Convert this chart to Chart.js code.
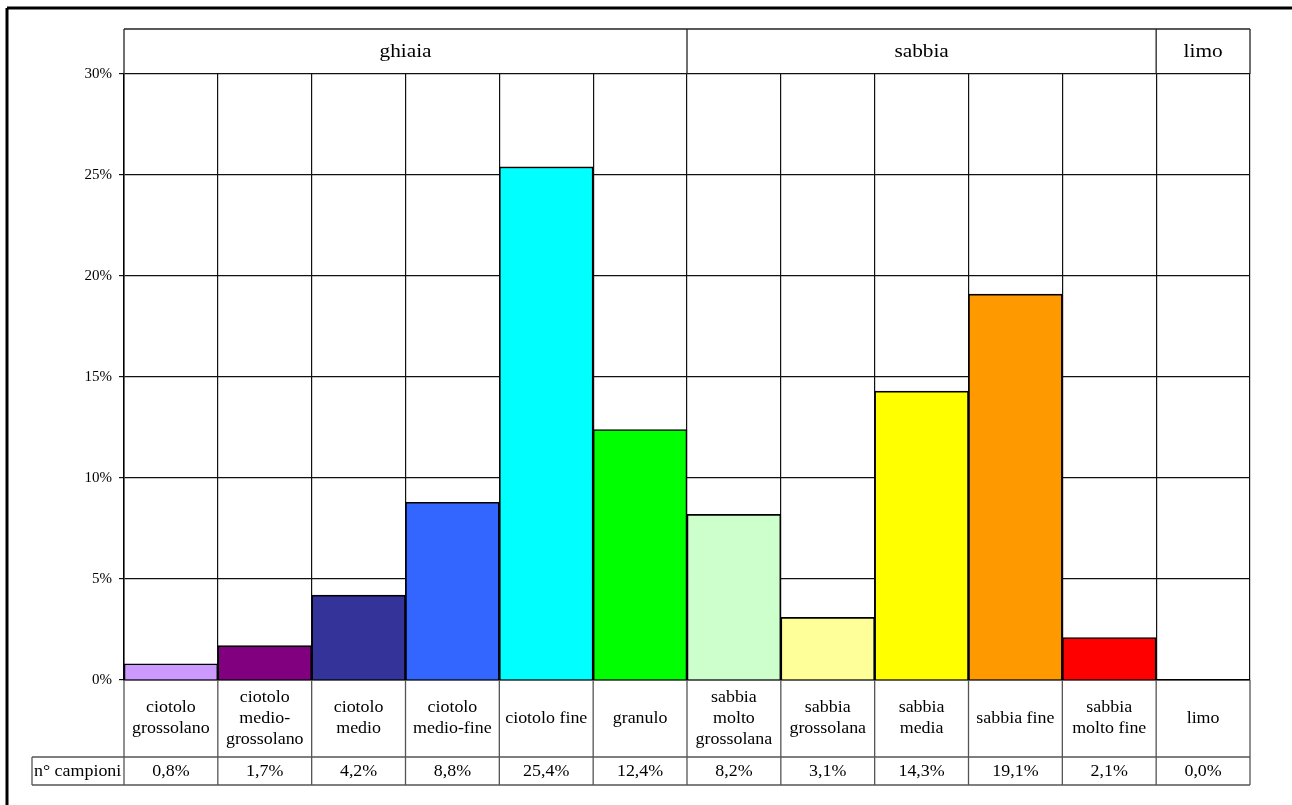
<!DOCTYPE html>
<html>
<head>
<meta charset="utf-8">
<script src="https://cdn.jsdelivr.net/npm/chart.js"></script>
<style>
  body { margin: 0; background: #fff; }
  #wrap { width: 1292px; height: 805px; }
</style>
</head>
<body>
<div id="wrap"><canvas id="myChart" width="1292" height="805"></canvas></div>
<script>
const categories = [
    ["ciotolo", "grossolano"],
    ["ciotolo", "medio-", "grossolano"],
    ["ciotolo", "medio"],
    ["ciotolo", "medio-fine"],
    ["ciotolo fine"],
    ["granulo"],
    ["sabbia", "molto", "grossolana"],
    ["sabbia", "grossolana"],
    ["sabbia", "media"],
    ["sabbia fine"],
    ["sabbia", "molto fine"],
    ["limo"]
];
const values = [0.8, 1.7, 4.2, 8.8, 25.4, 12.4, 8.2, 3.1, 14.3, 19.1, 2.1, 0.0];
const valueLabels = ["0,8%", "1,7%", "4,2%", "8,8%", "25,4%", "12,4%", "8,2%", "3,1%", "14,3%", "19,1%", "2,1%", "0,0%"];
const barColors = ["#CC99FF", "#800080", "#333399", "#3366FF", "#00FFFF", "#00FF00",
                   "#CCFFCC", "#FFFF99", "#FFFF00", "#FF9900", "#FF0000", "#FFFFFF"];
const groupNames = ["ghiaia", "sabbia", "limo"];
const groupSizes = [6, 5, 1];
const rowTitle = "n° campioni";

const FONT = "'Liberation Serif', 'Times New Roman', serif";
const SX = 1.12; // text in the original is a bit stretched sideways

function stretchText(ctx, text, x, y) {
    ctx.save();
    ctx.translate(x, y);
    ctx.scale(SX, 1);
    ctx.fillText(text, 0, 0);
    ctx.restore();
}

function line(ctx, x1, y1, x2, y2) {
    ctx.beginPath();
    ctx.moveTo(x1, y1);
    ctx.lineTo(x2, y2);
    ctx.stroke();
}

const tablePlugin = {
    id: "tablePlugin",
    afterDraw(chart) {
        const ctx = chart.ctx;
        const area = chart.chartArea;
        const x = chart.scales.x;
        const n = categories.length;
        const half = (x.getPixelForValue(1) - x.getPixelForValue(0)) / 2;
        const edge = i => (i < n ? x.getPixelForValue(i) - half : x.getPixelForValue(n - 1) + half);

        ctx.save();
        ctx.fillStyle = "#000";

        // top band with group names
        const bandTop = area.top - 45;
        ctx.strokeStyle = "#222";
        ctx.lineWidth = 1.3;
        line(ctx, area.left, bandTop, area.right, bandTop);
        line(ctx, area.left, bandTop, area.left, area.top);
        line(ctx, area.right, bandTop, area.right, area.top);
        ctx.font = "19px " + FONT;
        ctx.textAlign = "center";
        ctx.textBaseline = "middle";
        let start = 0;
        groupNames.forEach((g, k) => {
            const a = edge(start);
            const b = edge(start + groupSizes[k]);
            if (start > 0) line(ctx, a, bandTop, a, area.top);
            stretchText(ctx, g, (a + b) / 2, (bandTop + area.top) / 2 + 1);
            start += groupSizes[k];
        });

        // category names and values table
        const row1 = area.bottom;
        const row2 = area.bottom + 77;
        const row3 = area.bottom + 105;
        ctx.strokeStyle = "#555";
        line(ctx, area.left, row2, area.right, row2);
        line(ctx, 32, row3, area.right, row3);
        line(ctx, 32, row2, area.left, row2);
        line(ctx, 32, row2, 32, row3);
        for (let i = 0; i <= n; i++) {
            line(ctx, edge(i), row1, edge(i), row3);
        }
        ctx.font = "16px " + FONT;
        for (let i = 0; i < n; i++) {
            const cx = (edge(i) + edge(i + 1)) / 2;
            const lines = categories[i];
            const mid = (row1 + row2) / 2;
            lines.forEach((t, j) => {
                stretchText(ctx, t, cx, mid + (j - (lines.length - 1) / 2) * 21);
            });
            stretchText(ctx, valueLabels[i], cx, (row2 + row3) / 2 + 1);
        }
        ctx.textAlign = "left";
        stretchText(ctx, rowTitle, 34, (row2 + row3) / 2 + 1);

        // outer frame
        ctx.strokeStyle = "#000";
        ctx.lineWidth = 3;
        line(ctx, 7, 8, 1292, 8);
        line(ctx, 7, 8, 7, 805);
        ctx.restore();
    }
};

new Chart("myChart", {
    type: "bar",
    data: {
        labels: categories.map(c => c.join(" ")),
        datasets: [{
            data: values,
            backgroundColor: barColors,
            borderColor: "#000",
            borderWidth: 1.6,
            categoryPercentage: 1.0,
            barPercentage: 1.0
        }]
    },
    options: {
        responsive: false,
        animation: false,
        layout: { padding: { top: 74, right: 42, bottom: 125, left: 8 } },
        plugins: {
            legend: { display: false },
            tooltip: { enabled: false }
        },
        scales: {
            x: {
                ticks: { display: false },
                grid: { color: "#111", lineWidth: 1.2, drawTicks: false, offset: true },
                border: { color: "#000", width: 1.5 },
                afterFit: s => { s.height = 0; }
            },
            y: {
                min: 0,
                max: 30,
                ticks: {
                    stepSize: 5,
                    padding: 7,
                    color: "#000",
                    font: { family: FONT, size: 15 },
                    callback: v => v + "%"
                },
                grid: { color: "#111", lineWidth: 1.2, tickLength: 5 },
                border: { color: "#000", width: 1.5 },
                afterFit: s => { s.width = 116; }
            }
        }
    },
    plugins: [tablePlugin]
});
</script>
</body>
</html>
